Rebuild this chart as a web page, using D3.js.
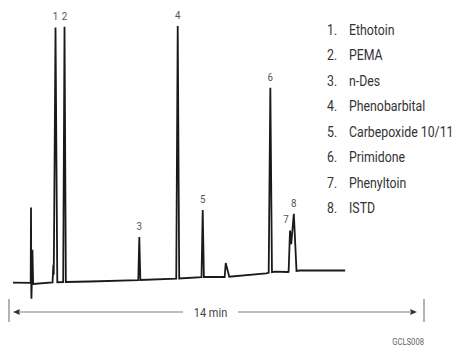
<!DOCTYPE html>
<html><head><meta charset="utf-8">
<script src="https://cdn.jsdelivr.net/npm/d3@7"></script>
<style>
html,body{margin:0;padding:0;background:#fff;}
svg{display:block;}
text{font-family:"Liberation Sans Narrow","Arial Narrow","Roboto",sans-serif;}
</style></head>
<body><svg id="c" width="475" height="346"></svg>
<script>
// Compound legend
const peakNumbers = [1, 2, 3, 4, 5, 6, 7, 8];
const compoundNames = ["Ethotoin", "PEMA", "n-Des", "Phenobarbital", "Carbepoxide 10/11", "Primidone", "Phenyltoin", "ISTD"];
// Labelled peaks: retention time (min), height above baseline, half widths (min)
const peakTimes   = [1.569, 1.873, 4.396, 5.692, 6.535, 8.816, 9.48, 9.609];
const peakHeights = [98.0, 98.2, 16.5, 97.1, 25.8, 71.1, 10.5, 22.1];
const peakLeftW   = [0.06, 0.045, 0.035, 0.05, 0.04, 0.055, 0.05, 0.17];
const peakRightW  = [0.06, 0.045, 0.035, 0.05, 0.04, 0.055, 0.04, 0.09];
// Unlabelled features: injection disturbance, shoulder, minor peak
const minorTimes   = [0.742, 0.757, 0.79, 1.495, 7.311];
const minorHeights = [29.0, -6.0, 13.0, 6.7, 5.4];
const minorLeftW   = [0.01, 0.012, 0.015, 0.025, 0.035];
const minorRightW  = [0.01, 0.012, 0.025, 0.025, 0.12];
// Baseline drift
const baselineTimes  = [0.135, 0.742, 0.81, 1.48, 2.73, 4.42, 5.70, 6.55, 7.32, 8.67, 8.97, 9.38, 9.81, 11.34];
const baselineLevels = [2.8, 2.77, 2.3, 2.96, 3.27, 3.85, 4.42, 5.0, 5.0, 6.42, 7.04, 6.92, 7.5, 7.5];
const runLength = 14; // min

const svg = d3.select("#c");
const x = d3.scaleLinear().domain([0, runLength]).range([9, 424]);
const y = d3.scaleLinear().domain([0, 100]).range([290, 30]);

const base = d3.scaleLinear().domain(baselineTimes).range(baselineLevels).clamp(true);
const features = [];
peakTimes.forEach((t, i) => features.push({t, h: peakHeights[i], l: peakLeftW[i], r: peakRightW[i]}));
minorTimes.forEach((t, i) => features.push({t, h: minorHeights[i], l: minorLeftW[i], r: minorRightW[i]}));
function tri(f, t) {
  if (t <= f.t - f.l || t >= f.t + f.r) return 0;
  return t < f.t ? f.h * (t - (f.t - f.l)) / f.l : f.h * ((f.t + f.r) - t) / f.r;
}
let times = baselineTimes.slice();
features.forEach(f => times.push(f.t - f.l, f.t, f.t + f.r));
times = Array.from(new Set(times)).filter(t => t >= baselineTimes[0] && t <= baselineTimes[baselineTimes.length-1]).sort((a,b)=>a-b);
const trace = times.map(t => [t, base(t) + d3.sum(features, f => tri(f, t))]);
const traceValue = t => base(t) + d3.sum(features, f => tri(f, t));

svg.append("path")
  .attr("d", d3.line().x(d => x(d[0])).y(d => y(d[1]))(trace))
  .attr("fill", "none").attr("stroke", "#1a1a1a").attr("stroke-width", 1.8)
  .attr("stroke-linejoin", "miter").attr("stroke-miterlimit", 2);

// peak labels
const labelDx = [0, 0, 0, 0, 0, 0, -4, 0];
svg.selectAll(".pl").data(peakNumbers).join("text")
  .attr("transform", (d, i) => `translate(${x(peakTimes[i]) + labelDx[i]},${y(traceValue(peakTimes[i])) - 7}) scale(0.85,1)`)
  .attr("text-anchor", "middle").attr("font-size", 11.5).attr("fill", "#555")
  .text(d => d);

// legend
const lg = svg.append("g");
peakNumbers.forEach((n, i) => {
  lg.append("text").attr("transform", `translate(327,${34.5 + i * 25.5}) scale(0.88,1)`).attr("font-size", 14).attr("fill", "#333").text(n + ".");
  lg.append("text").attr("transform", `translate(349,${34.5 + i * 25.5}) scale(0.88,1)`).attr("font-size", 14).attr("fill", "#333").text(compoundNames[i]);
});

// run-length arrow
const ay = 312, gray = "#808080";
const a = svg.append("g");
[0, runLength].forEach(t => a.append("line").attr("x1", x(t)).attr("x2", x(t)).attr("y1", 299).attr("y2", 322).attr("stroke", gray).attr("stroke-width", 1.2));
const x0 = x(0) + 4, x1 = x(runLength) - 7;
a.append("line").attr("x1", x0 + 5).attr("x2", 183).attr("y1", ay).attr("y2", ay).attr("stroke", gray).attr("stroke-width", 1.2);
a.append("line").attr("x1", 238).attr("x2", x1 - 5).attr("y1", ay).attr("y2", ay).attr("stroke", gray).attr("stroke-width", 1.2);
a.append("path").attr("d", `M${x0},${ay}L${x0+7},${ay-3}L${x0+6},${ay}L${x0+7},${ay+3}Z`).attr("fill", "#333");
a.append("path").attr("d", `M${x1},${ay}L${x1-7},${ay-3}L${x1-6},${ay}L${x1-7},${ay+3}Z`).attr("fill", "#333");
a.append("text").attr("transform", `translate(210.5,${ay + 4.5}) scale(0.88,1)`).attr("text-anchor", "middle").attr("font-size", 12.5).attr("fill", "#444").text(runLength + " min");

svg.append("text").attr("transform", "translate(424,345) scale(0.85,1)").attr("text-anchor", "end").attr("font-size", 9).attr("fill", "#666").text("GCLS008");
</script></body></html>
